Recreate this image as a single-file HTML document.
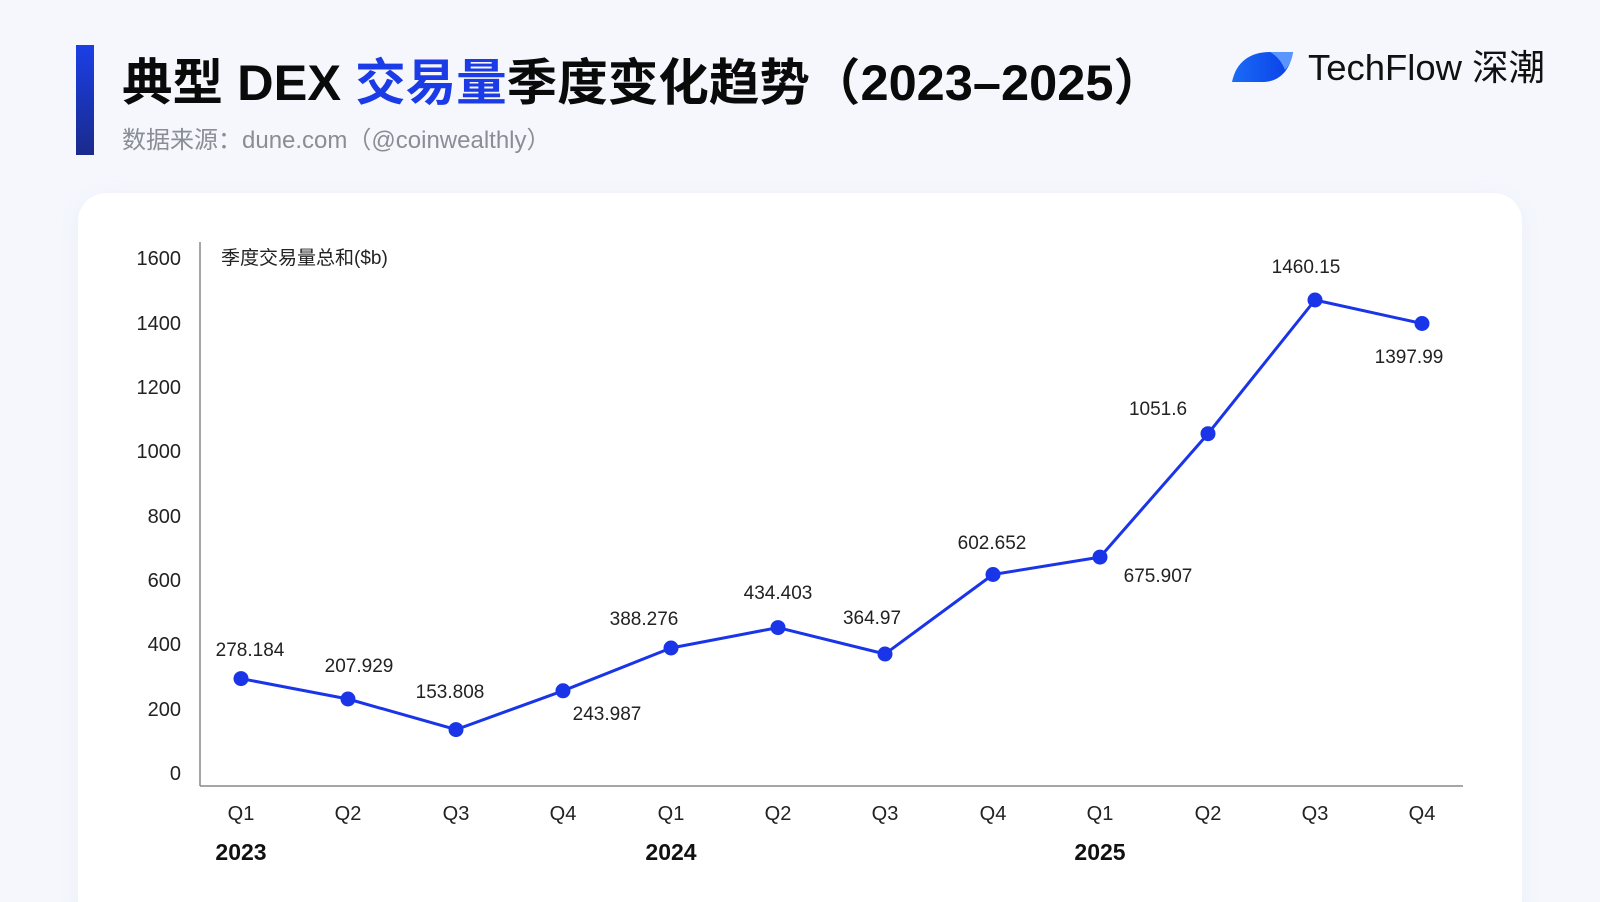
<!DOCTYPE html>
<html><head><meta charset="utf-8"><style>
html,body{margin:0;padding:0;width:1600px;height:902px;overflow:hidden;background:#f5f7fd;}
svg{display:block}
</style></head><body>
<svg width="1600" height="902" viewBox="0 0 1600 902" xmlns="http://www.w3.org/2000/svg" font-family="'Liberation Sans','Noto Sans CJK SC',sans-serif">
<defs>
<linearGradient id="bar" x1="0" y1="0" x2="0" y2="1"><stop offset="0" stop-color="#1b3fe6"/><stop offset="1" stop-color="#1a2a8c"/></linearGradient>
<linearGradient id="leaf" x1="0" y1="0" x2="1" y2="0"><stop offset="0" stop-color="#1a6cf5"/><stop offset="1" stop-color="#0a3ee8"/></linearGradient>
<filter id="sh" x="-5%" y="-5%" width="110%" height="110%"><feGaussianBlur stdDeviation="10"/></filter>
</defs>
<rect width="1600" height="902" fill="#f5f7fd"/>
<rect x="76" y="45" width="18" height="110" fill="url(#bar)"/>
<text x="122" y="100" font-size="50" font-weight="bold" fill="#0a0a0a" textLength="1042" lengthAdjust="spacingAndGlyphs">典型 DEX <tspan fill="#1a3be6">交易量</tspan>季度变化趋势（2023–2025）</text>
<text x="122" y="148" font-size="24" fill="#8a8d95">数据来源：dune.com（@coinwealthly）</text>
<path d="M1232 82 C1236 62 1250 52 1270 52 L1293 52 C1290 70 1280 82 1262 82 Z" fill="url(#leaf)"/>
<path d="M1270 52 L1293 52 C1292 60 1289 66 1285 70 C1282 62 1277 56 1270 52Z" fill="#5b95ff"/>
<text x="1308" y="80" font-size="36" fill="#111" textLength="237" lengthAdjust="spacingAndGlyphs">TechFlow 深潮</text>
<rect x="78" y="198" width="1444" height="740" rx="28" fill="#e6eaf7" filter="url(#sh)" opacity="0.6"/>
<rect x="78" y="193" width="1444" height="740" rx="28" fill="#ffffff"/>
<line x1="200" y1="242" x2="200" y2="786" stroke="#888" stroke-width="1.5"/>
<line x1="200" y1="786" x2="1463" y2="786" stroke="#888" stroke-width="1.5"/>
<g font-size="20" fill="#222" text-anchor="end">
<text x="181" y="265">1600</text><text x="181" y="330">1400</text><text x="181" y="394">1200</text>
<text x="181" y="458">1000</text><text x="181" y="523">800</text><text x="181" y="587">600</text>
<text x="181" y="651">400</text><text x="181" y="716">200</text><text x="181" y="780">0</text>
</g>
<text x="221" y="264" font-size="19" fill="#222">季度交易量总和($b)</text>
<g font-size="20" fill="#222" text-anchor="middle">
<text x="241" y="820">Q1</text><text x="348" y="820">Q2</text><text x="456" y="820">Q3</text><text x="563" y="820">Q4</text>
<text x="671" y="820">Q1</text><text x="778" y="820">Q2</text><text x="885" y="820">Q3</text><text x="993" y="820">Q4</text>
<text x="1100" y="820">Q1</text><text x="1208" y="820">Q2</text><text x="1315" y="820">Q3</text><text x="1422" y="820">Q4</text>
</g>
<g font-size="23" font-weight="bold" fill="#111" text-anchor="middle">
<text x="241" y="860">2023</text><text x="671" y="860">2024</text><text x="1100" y="860">2025</text>
</g>
<polyline fill="none" stroke="#1a35e8" stroke-width="3" stroke-linejoin="round" points="241,678.6 348,699 456,729.6 563,690.8 671,648 778,627.6 885,654 993,574.5 1100,557.1 1208,433.7 1315,300 1422,323.5"/>
<g fill="#1a35e8">
<circle cx="241" cy="678.6" r="7.5"/><circle cx="348" cy="699" r="7.5"/><circle cx="456" cy="729.6" r="7.5"/><circle cx="563" cy="690.8" r="7.5"/>
<circle cx="671" cy="648" r="7.5"/><circle cx="778" cy="627.6" r="7.5"/><circle cx="885" cy="654" r="7.5"/><circle cx="993" cy="574.5" r="7.5"/>
<circle cx="1100" cy="557.1" r="7.5"/><circle cx="1208" cy="433.7" r="7.5"/><circle cx="1315" cy="300" r="7.5"/><circle cx="1422" cy="323.5" r="7.5"/>
</g>
<g font-size="19" fill="#222" text-anchor="middle">
<text x="250" y="656">278.184</text><text x="359" y="672">207.929</text><text x="450" y="698">153.808</text>
<text x="607" y="720">243.987</text><text x="644" y="625">388.276</text><text x="778" y="599">434.403</text>
<text x="872" y="624">364.97</text><text x="992" y="549">602.652</text><text x="1158" y="582">675.907</text>
<text x="1158" y="415">1051.6</text><text x="1306" y="273">1460.15</text><text x="1409" y="363">1397.99</text>
</g>
</svg>
</body></html>
